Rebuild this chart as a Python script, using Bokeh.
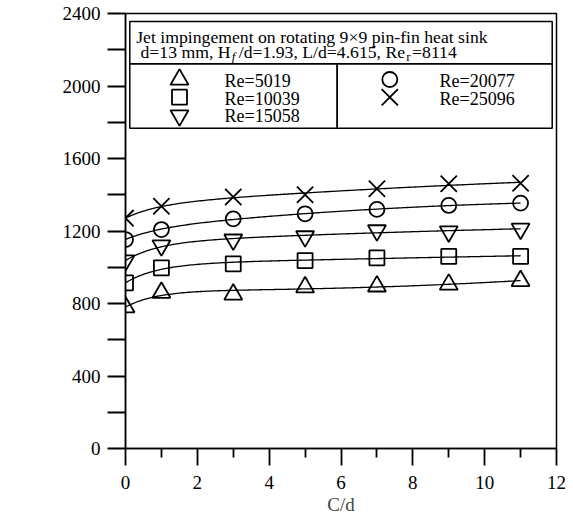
import numpy as np
from bokeh.plotting import figure
from bokeh.models import Range1d, FixedTicker, Label, BoxAnnotation
from bokeh.embed import file_html
from bokeh.resources import INLINE

# Nusselt number vs. C/d for five jet Reynolds numbers
cd = [0, 1, 3, 5, 7, 9, 11]
re_labels = ["Re=5019", "Re=10039", "Re=15058", "Re=20077", "Re=25096"]
nu_re5019 = [780, 860, 850, 890, 895, 905, 925]
nu_re10039 = [914, 997, 1019, 1037, 1052, 1060, 1060]
nu_re15058 = [1037, 1120, 1152, 1170, 1203, 1197, 1212]
nu_re20077 = [1153, 1208, 1267, 1295, 1319, 1341, 1354]
nu_re25096 = [1271, 1336, 1387, 1400, 1433, 1461, 1464]

x_ticks = [0, 2, 4, 6, 8, 10, 12]
x_minor = [1, 3, 5, 7, 9, 11]
y_ticks = [0, 400, 800, 1200, 1600, 2000, 2400]
y_minor = [200, 600, 1000, 1400, 1800, 2200]

FONT = "Liberation Serif"
W, H = 573, 521
LEFT, RIGHT, TOP, BOTTOM = 125, 17, 13, 73
X0, X1, Y0, Y1 = 0, 12, 0, 2400

p = figure(width=W, height=H, output_backend="svg", toolbar_location=None,
           x_range=Range1d(X0, X1), y_range=Range1d(Y0, Y1),
           min_border_left=LEFT, min_border_right=RIGHT,
           min_border_top=TOP, min_border_bottom=BOTTOM)
p.grid.visible = False
p.outline_line_color = "black"
p.outline_line_width = 1.5
p.background_fill_color = "white"

# pixel -> data helpers for placing the legend box and labels
fw, fh = W - LEFT - RIGHT, H - TOP - BOTTOM
def px(sx):
    return X0 + (sx - LEFT) / fw * (X1 - X0)
def py(sy):
    return Y0 + (TOP + fh - sy) / fh * (Y1 - Y0)

xax = p.xaxis[0]
yax = p.yaxis[0]
for ax in (xax, yax):
    ax.axis_line_width = 1.5
    ax.major_tick_line_width = 1.8
    ax.minor_tick_line_width = 1.8
    ax.major_tick_in = 0
    ax.minor_tick_in = 0
    ax.major_label_text_font = FONT
    ax.major_label_text_font_size = "19px"
    ax.major_label_text_color = "black"
    ax.axis_line_color = "black"
    ax.major_tick_line_color = "black"
    ax.minor_tick_line_color = "black"

xax.ticker = FixedTicker(ticks=x_ticks, minor_ticks=x_minor)
yax.ticker = FixedTicker(ticks=y_ticks, minor_ticks=y_minor)
xax.major_tick_out = 17
xax.minor_tick_out = 9
yax.major_tick_out = 18
yax.minor_tick_out = 18
xax.major_label_standoff = 10
yax.major_label_standoff = 7
xax.axis_label = "C/d"
xax.axis_label_text_font = FONT
xax.axis_label_text_font_size = "19px"
xax.axis_label_text_font_style = "normal"
xax.axis_label_standoff = 2


def smooth_fit(x, y):
    """Least-squares smooth curve: saturating rise plus a gentle polynomial."""
    x = np.asarray(x, float)
    y = np.asarray(y, float)
    def basis(t):
        return np.column_stack([np.ones_like(t), 1 - np.exp(-t / 0.9), t, t ** 2])
    w = np.ones_like(x)
    w[0] = 4.0
    A = basis(x) * w[:, None]
    coef, *_ = np.linalg.lstsq(A, y * w, rcond=None)
    xs = np.linspace(x.min(), x.max(), 200)
    return xs, basis(xs) @ coef


series = [nu_re5019, nu_re10039, nu_re15058, nu_re20077, nu_re25096]
markers = ["triangle", "square", "inverted_triangle", "circle", "x"]
sizes = [18, 15, 18, 15, 23]

for vals, mk, sz in zip(series, markers, sizes):
    xs, ys = smooth_fit(cd, vals)
    p.line(xs, ys, line_color="black", line_width=1.3)
    p.scatter(cd, vals, marker=mk, size=sz, fill_color=None,
              line_color="black", line_width=1.8)

# legend frame: title cell on top, two columns below
box_style = dict(fill_alpha=0, line_color="black", line_width=1.5, line_alpha=1)
p.add_layout(BoxAnnotation(left=px(129.3), right=px(551.7), top=py(21), bottom=py(63.3), **box_style))
p.add_layout(BoxAnnotation(left=px(129.3), right=px(336.7), top=py(63.3), bottom=py(127.7), **box_style))
p.add_layout(BoxAnnotation(left=px(336.7), right=px(551.7), top=py(63.3), bottom=py(127.7), **box_style))

DY = -5  # baseline correction

# Times / Liberation Serif advance widths (1/1000 em) for chaining text runs
ADV = {" ": 250, ",": 250, ".": 250, "/": 278, "=": 564, "H": 722, "L": 611,
       "R": 667, "d": 500, "e": 444, "m": 778, "f": 278, "r": 333}
def text_width(s, size):
    return sum(ADV.get(c, 500) for c in s) * size / 1000.0


def label(sx, sy, text, size=18.0, style="normal"):
    p.add_layout(Label(x=px(sx), y=py(sy + DY), text=text, text_font=FONT,
                       text_font_size=f"{size}px", text_font_style=style,
                       text_baseline="alphabetic", text_align="left",
                       text_color="black"))


TS, SS = 17.7, 13.0
label(135.7, 41, "Jet impingement on rotating 9\u00d79 pin-fin heat sink", TS)

# second title line built from runs with subscripts
runs = [("d=13 mm, H", TS, "normal", 0, 1.0),
        ("f", SS, "italic", 4.3, 3.5),
        ("/d=1.93, L/d=4.615, Re", TS, "normal", 0, 1.0),
        ("r", SS, "normal", 4.3, 1.5),
        ("=8114", TS, "normal", 0, 0)]
cx = 140.0
for txt, sz, st, drop, gap in runs:
    label(cx, 56.7 + drop, txt, sz, st)
    cx += text_width(txt, sz) + gap

# legend entries
leg_pos = [(179, 79, 224, 85.3), (179, 96.7, 224, 103), (179, 115, 224, 120.7),
           (389.3, 79, 439, 85.3), (389.3, 96.7, 439, 103)]
for (mx, my, tx, ty), mk, sz, txt in zip(leg_pos, markers, sizes, re_labels):
    p.scatter([px(mx)], [py(my)], marker=mk, size=sz, fill_color=None,
              line_color="black", line_width=1.8)
    label(tx, ty, txt, 18.0)

# y-axis label Nu with subscript Omega
label(13, 240, "Nu", 19.0)
label(45.5, 247, "\u03a9", 14.0)

open("out.html", "w").write(file_html(p, INLINE))
